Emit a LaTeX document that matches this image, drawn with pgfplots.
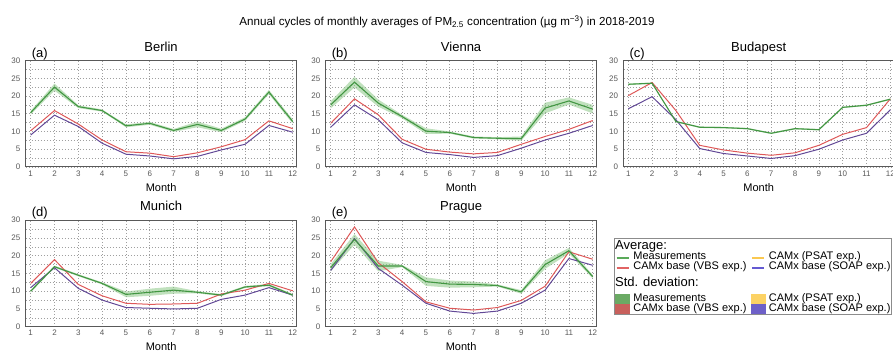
\documentclass[border=0pt]{standalone}
\usepackage{fontspec}
\setmainfont{Liberation Sans}
\usepackage{pgfplots}
\pgfplotsset{compat=1.18}
\usepackage{pgfplotstable}
\usepgfplotslibrary{fillbetween}

\definecolor{cG}{RGB}{66,150,66}
\definecolor{cGb}{RGB}{140,200,135}
\definecolor{cR}{RGB}{222,88,88}
\definecolor{cP}{RGB}{98,72,150}
\definecolor{cGL}{RGB}{90,170,90}
\definecolor{cRL}{RGB}{225,100,100}
\definecolor{cYL}{RGB}{250,200,80}
\definecolor{cPL}{RGB}{100,90,210}
\definecolor{cGP}{RGB}{106,170,100}
\definecolor{cRP}{RGB}{200,96,92}
\definecolor{cYP}{RGB}{252,210,100}
\definecolor{cPP}{RGB}{110,96,200}

\pgfplotstableread{
m g s v p
1 15.3 0.5 10.2 9.0
2 22.5 1.0 15.9 14.6
3 17.0 0.4 12.1 11.4
4 15.9 0.3 7.6 6.7
5 11.6 0.4 4.3 3.6
6 12.3 0.4 3.9 3.1
7 10.3 0.4 2.9 2.3
8 12.0 0.8 4.0 3.0
9 10.3 0.5 5.7 4.8
10 13.5 0.5 7.7 6.4
11 21.1 0.6 13.0 11.7
12 12.8 0.6 10.8 9.8
}\berlin
\pgfplotstableread{
m g s v p
1 17.5 1.0 12.3 11.2
2 23.9 1.5 19.2 17.5
3 18.0 1.0 14.7 13.3
4 14.2 0.5 7.8 6.8
5 10.1 0.8 5.0 4.1
6 9.7 0.3 4.2 3.5
7 8.3 0.3 3.7 2.7
8 8.1 0.3 4.1 3.2
9 8.0 0.6 6.4 5.3
10 16.6 1.5 8.6 7.6
11 18.6 1.0 10.6 9.5
12 16.3 1.2 13.1 11.7
}\vienna
\pgfplotstableread{
m g s v p
1 23.3 0.2 20.1 16.4
2 23.6 0.2 23.8 19.8
3 12.8 0.2 15.9 13.3
4 11.2 0.2 6.1 5.2
5 11.1 0.2 4.8 3.8
6 10.8 0.2 3.9 3.1
7 9.5 0.2 3.3 2.4
8 10.8 0.2 4.0 3.2
9 10.5 0.2 6.1 5.0
10 16.8 0.2 9.2 7.6
11 17.4 0.2 11.1 9.5
12 19.1 0.2 19.2 16.1
}\budapest
\pgfplotstableread{
m g s v p
1 10.0 0.3 12.2 11.0
2 16.9 0.3 18.9 16.6
3 14.5 0.3 11.9 10.8
4 12.2 0.3 8.7 7.5
5 9.1 0.8 6.6 5.4
6 9.7 1.0 6.3 5.2
7 10.3 1.0 6.4 5.0
8 9.7 0.3 6.6 5.2
9 8.9 0.3 9.2 7.7
10 11.2 0.3 10.3 8.9
11 11.7 0.3 12.2 11.0
12 8.9 0.3 10.1 8.9
}\munich
\pgfplotstableread{
m g s v p
1 16.6 1.0 18.3 15.8
2 24.6 1.5 28.1 24.8
3 17.1 1.5 18.0 16.4
4 17.1 0.3 12.7 11.7
5 12.7 1.2 7.0 6.6
6 12.0 1.0 5.2 4.4
7 11.9 0.8 4.7 3.75
8 11.6 0.3 5.4 4.4
9 9.8 0.5 7.4 6.6
10 17.5 1.2 11.4 10.3
11 21.4 0.8 21.1 19.2
12 14.1 0.5 19.0 17.3
}\prague

\pgfplotsset{
 panel/.style={
  scale only axis, width=270.4pt, height=106.5pt,
  xmin=0.8, xmax=12.15, ymin=0, ymax=30,
  xtick={1,...,12}, ytick={0,5,...,30}, minor ytick={2.5,7.5,...,27.5},
  grid=both,
  major grid style={draw=gray!75, line width=0.6pt, dash pattern=on 0.8pt off 2.2pt},
  minor grid style={draw=gray!75, line width=0.6pt, dash pattern=on 0.8pt off 2.2pt},
  axis line style={draw=black!65, line width=1pt},
  major tick length=0pt, minor tick length=0pt,
  tick label style={font=\fontsize{8}{9}\selectfont, text=black!65},
  /pgf/number format/assume math mode=true,
  yticklabel style={xshift=-2pt},
  xlabel={Month},
  xlabel style={font=\fontsize{11}{11}\selectfont, at={(axis description cs:0.5,0)}, anchor=base, yshift=-24.3pt},
  title style={font=\fontsize{13}{13}\selectfont, at={(axis description cs:0.5,1)}, anchor=base, yshift=3.4pt},
 },
 plab/.style={extra description/.code={\node[anchor=base west,font=\fontsize{13}{13}\selectfont,inner sep=0pt] at (0.0215,1) [yshift=3.4pt]{#1};}},
 blankleg/.style={legend image code/.code={\path[draw=none,fill=none](0pt,0pt)--(15pt,0pt);}},
}

\newcommand{\plotcity}[1]{%
 \addplot[name path=up, draw=none, forget plot] table[x=m, y expr=\thisrow{g}+\thisrow{s}]{#1};
 \addplot[name path=lo, draw=none, forget plot] table[x=m, y expr=\thisrow{g}-\thisrow{s}]{#1};
 \addplot[fill=cGb, fill opacity=0.55, draw=none, forget plot] fill between[of=up and lo];
 \addplot[cP, line width=1pt, forget plot] table[x=m,y=p]{#1};
 \addplot[cR, line width=1pt, forget plot] table[x=m,y=v]{#1};
 \addplot[cG, line width=1.1pt, forget plot] table[x=m,y=g]{#1};
}

\begin{document}
\begin{tikzpicture}
\node[font=\fontsize{11.6}{11.6}\selectfont, anchor=base] at (447pt,327pt) {Annual cycles of monthly averages of PM\textsubscript{2.5} concentration (µg m\textsuperscript{−3}) in 2018-2019};

\begin{axis}[panel, at={(25.9pt,186pt)}, anchor=south west, title={Berlin}, plab={(a)}]
\plotcity{\berlin}
\end{axis}
\begin{axis}[panel, at={(325.9pt,186pt)}, anchor=south west, title={Vienna}, plab={(b)}]
\plotcity{\vienna}
\end{axis}
\begin{axis}[panel, at={(623.5pt,186pt)}, anchor=south west, title={Budapest}, plab={(c)}]
\plotcity{\budapest}
\end{axis}
\begin{axis}[panel, at={(25.9pt,26.3pt)}, anchor=south west, title={Munich}, plab={(d)}]
\plotcity{\munich}
\end{axis}
\begin{axis}[panel, at={(325.9pt,26.3pt)}, anchor=south west, title={Prague}, plab={(e)},
  legend columns=2, legend cell align=left,
  legend style={at={(1.0666,0.8285)}, anchor=north west, draw=black!45, line width=0.6pt,
    inner sep=0.5pt, font=\fontsize{11}{11}\selectfont,
    nodes={inner sep=0pt, text height=7pt, text depth=3pt}, row sep=0pt,
    /tikz/every odd column/.style={column sep=3.3pt},
    /tikz/every even column/.style={column sep=4pt}}]
\plotcity{\prague}
\addlegendimage{blankleg}
\addlegendentry[text height=10pt,text depth=3.7pt]{\fontsize{13}{13}\selectfont\hspace*{-18.3pt}Average:}
\addlegendimage{blankleg}
\addlegendentry{\mbox{}}
\addlegendimage{legend image code/.code={\draw[draw=cGL,line width=1.1pt](1.5pt,0pt)--(13.5pt,0pt);\path[draw=none](0pt,0pt)--(15pt,0pt);}}
\addlegendentry{Measurements}
\addlegendimage{legend image code/.code={\draw[draw=cYL,line width=1.1pt](1.5pt,0pt)--(13.5pt,0pt);\path[draw=none](0pt,0pt)--(15pt,0pt);}}
\addlegendentry{CAMx (PSAT exp.)}
\addlegendimage{legend image code/.code={\draw[draw=cRL,line width=1.1pt](1.5pt,0pt)--(13.5pt,0pt);\path[draw=none](0pt,0pt)--(15pt,0pt);}}
\addlegendentry{CAMx base (VBS exp.)}
\addlegendimage{legend image code/.code={\draw[draw=cPL,line width=1.1pt](1.5pt,0pt)--(13.5pt,0pt);\path[draw=none](0pt,0pt)--(15pt,0pt);}}
\addlegendentry{CAMx base (SOAP exp.)}
\addlegendimage{blankleg}
\addlegendentry[text height=13.6pt,text depth=7.7pt]{\fontsize{13}{13}\selectfont\hspace*{-18.3pt}Std. deviation:}
\addlegendimage{blankleg}
\addlegendentry{\mbox{}}
\addlegendimage{legend image code/.code={\fill[fill=cGP,draw=none](0pt,-5pt)rectangle(15pt,5pt);}}
\addlegendentry{Measurements}
\addlegendimage{legend image code/.code={\fill[fill=cYP,draw=none](0pt,-5pt)rectangle(15pt,5pt);}}
\addlegendentry{CAMx (PSAT exp.)}
\addlegendimage{legend image code/.code={\fill[fill=cRP,draw=none](0pt,-5pt)rectangle(15pt,5pt);}}
\addlegendentry{CAMx base (VBS exp.)}
\addlegendimage{legend image code/.code={\fill[fill=cPP,draw=none](0pt,-5pt)rectangle(15pt,5pt);}}
\addlegendentry{CAMx base (SOAP exp.)}
\end{axis}
\pgfresetboundingbox
\useasboundingbox (0,0) rectangle (893pt,353pt);
\end{tikzpicture}
\end{document}
